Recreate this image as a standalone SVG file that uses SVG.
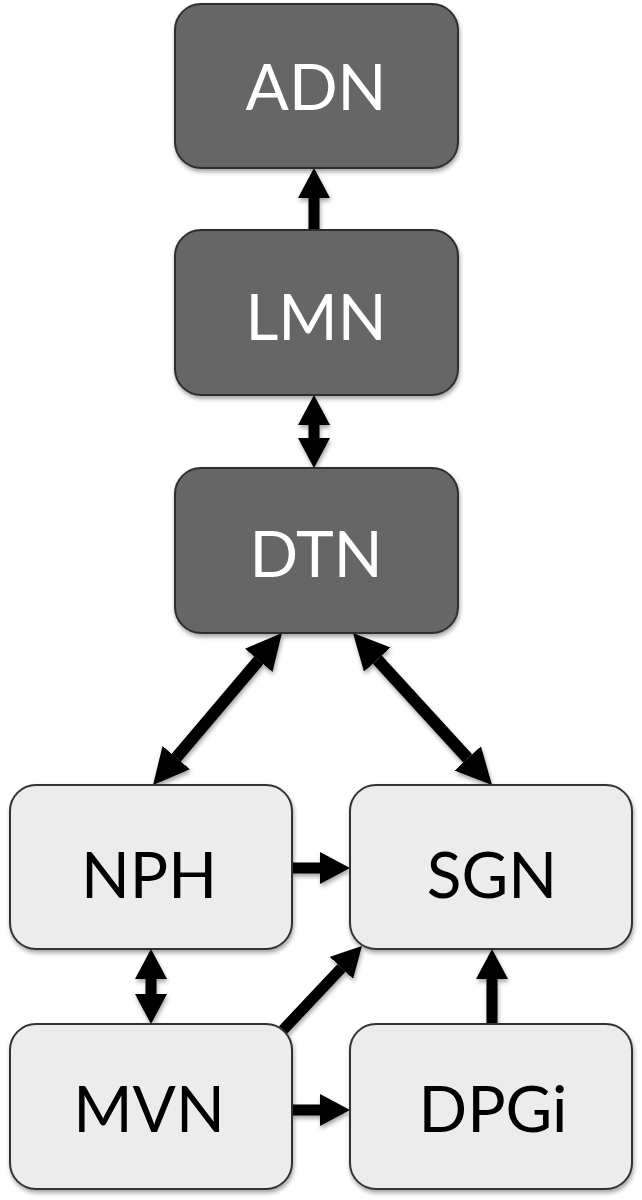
<svg xmlns="http://www.w3.org/2000/svg" width="642" height="1200" viewBox="0 0 642 1200">
<style>
.dark{fill:#666666;stroke:#2e2e2e;stroke-width:2}
.light{fill:#ececec;stroke:#333333;stroke-width:2}
.tw{font-family:Lato,"Open Sans","Liberation Sans",sans-serif;font-size:64px;fill:#ffffff;text-anchor:middle}
.tb{font-family:Lato,"Open Sans","Liberation Sans",sans-serif;font-size:64px;fill:#000000;text-anchor:middle}
.c{fill:none;stroke:#000;stroke-width:11;marker-end:url(#ah)}
.d{fill:none;stroke:#000;stroke-width:11;marker-end:url(#ah);marker-start:url(#ah)}
.g{fill:none;stroke:#000;stroke-width:12;marker-end:url(#ahl);marker-start:url(#ahl)}
</style>
<defs>
<filter id="sh" x="-10%" y="-10%" width="130%" height="130%">
<feDropShadow dx="1" dy="3" stdDeviation="2" flood-color="#000" flood-opacity="0.35"/>
</filter>
<marker id="ah" viewBox="0 -16 30 32" refX="0" refY="0" markerWidth="30" markerHeight="32" markerUnits="userSpaceOnUse" orient="auto-start-reverse">
<path d="M0,-16 L30,0 L0,16 Z" fill="#000"/>
</marker>
<marker id="ahl" viewBox="0 -18 36 36" refX="0" refY="0" markerWidth="36" markerHeight="36" markerUnits="userSpaceOnUse" orient="auto-start-reverse">
<path d="M0,-18 L36,0 L0,18 Z" fill="#000"/>
</marker>
</defs>
<g id="connectors" filter="url(#sh)">
<path class="c" d="M314,230 L314,198"/>
<path class="d" d="M314,425 L314,438"/>
<path class="g" d="M258.7,660.4 L176.3,757.6"/>
<path class="g" d="M377.3,659.6 L467.7,758.4"/>
<path class="c" d="M292,868 L320,868"/>
<path class="d" d="M151,979 L151,994"/>
<path class="c" d="M283,1030 L341.4,967.9"/>
<path class="c" d="M292,1110 L320,1110"/>
<path class="c" d="M492,1024 L492,979"/>
</g>
<g id="ADN" filter="url(#sh)">
<rect class="dark" x="175" y="4" width="283" height="164" rx="26"/>
<text class="tw" x="316" y="110">ADN</text>
</g>
<g id="LMN" filter="url(#sh)">
<rect class="dark" x="175" y="230" width="283" height="165" rx="26"/>
<text class="tw" x="316" y="340">LMN</text>
</g>
<g id="DTN" filter="url(#sh)">
<rect class="dark" x="175" y="468" width="283" height="165" rx="26"/>
<text class="tw" x="316" y="577">DTN</text>
</g>
<g id="NPH" filter="url(#sh)">
<rect class="light" x="10" y="785" width="282" height="164" rx="26"/>
<text class="tb" x="149" y="898">NPH</text>
</g>
<g id="SGN" filter="url(#sh)">
<rect class="light" x="350" y="785" width="282" height="164" rx="26"/>
<text class="tb" x="492" y="898">SGN</text>
</g>
<g id="MVN" filter="url(#sh)">
<rect class="light" x="10" y="1024" width="282" height="165" rx="26"/>
<text class="tb" x="149" y="1132">MVN</text>
</g>
<g id="DPGi" filter="url(#sh)">
<rect class="light" x="350" y="1024" width="282" height="165" rx="26"/>
<text class="tb" x="493" y="1132">DPGi</text>
</g>
</svg>
